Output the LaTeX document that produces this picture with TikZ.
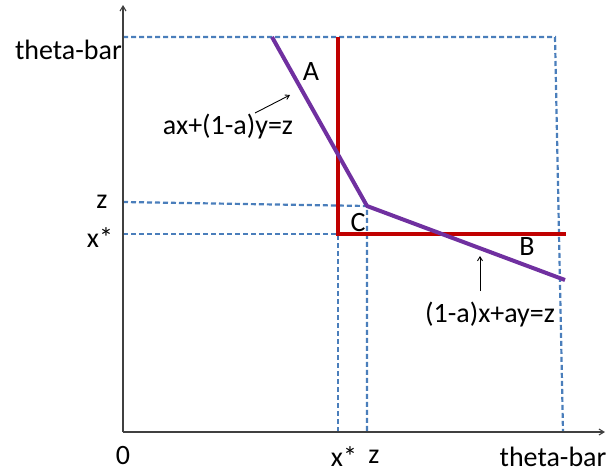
\documentclass[tikz,border=0pt]{standalone}
\usepackage{fontspec}
\setmainfont{Carlito}
\usetikzlibrary{arrows.meta}
\definecolor{dashblue}{HTML}{4A7EBB}
\definecolor{curvepurple}{HTML}{7030A0}
\definecolor{setred}{HTML}{C00000}
\tikzset{
  lbl/.style={inner sep=0pt, font=\fontsize{28}{32}\selectfont},
  axis/.style={draw=black!75, line width=1.1pt, -{Straight Barb[length=5pt,width=6pt]}},
  guide/.style={draw=dashblue, line width=2.2pt, dash pattern=on 5pt off 3pt},
  boundary/.style={draw=setred, line width=4pt},
  frontier/.style={draw=curvepurple, line width=4pt, line join=round},
  pointer/.style={draw=black, line width=0.9pt, -{Straight Barb[length=4pt,width=5pt]}}
}
\begin{document}
\begin{tikzpicture}[x=1pt,y=-1pt]
\useasboundingbox (0,0) rectangle (609,474);
% coordinates
\coordinate (O) at (123,432);
\coordinate (ytop) at (123,5);
\coordinate (xend) at (605,432);
\coordinate (tl) at (123,37);
\coordinate (tr) at (555,37);
\coordinate (br) at (563,432);
\coordinate (zl) at (123,202);
\coordinate (xl) at (123,234);
\coordinate (K) at (338,234);
\coordinate (Ktop) at (338,37);
\coordinate (Kright) at (566,234);
\coordinate (Kbot) at (338,432);
\coordinate (C) at (367,206);
\coordinate (Cbot) at (367,432);
\coordinate (Pa) at (272,37);
\coordinate (Pb) at (565,280);
% guides
\draw[guide] (tl) -- (tr) -- (br);
\draw[guide] (zl) -- (C) -- (Cbot);
\draw[guide] (xl) -- (K) -- (Kbot);
% axes
\draw[axis] (O) -- (ytop);
\draw[axis] (O) -- (xend);
% red set
\draw[boundary] (Ktop) -- (K) -- (Kright);
% purple frontier
\draw[frontier] (Pa) -- (C) -- (Pb);
% labels
\node[lbl, anchor=east] (thl) at (122,50) {theta-bar};
\node[lbl] (zlab) at (102,202) {z};
\node[lbl] (xlab) at (100,238) {x*};
\node[lbl] (zero) at (123,456) {0};
\node[lbl] (xb) at (344,457) {x*};
\node[lbl] (zb) at (374,457) {z};
\node[lbl] (thb) at (553,457) {theta-bar};
\node[lbl] (A) at (311,72) {A};
\node[lbl] (Clab) at (358,223) {C};
\node[lbl] (B) at (527,247) {B};
\node[lbl] (eqA) at (228,127) {ax+(1-a)y=z};
\node[lbl] (eqB) at (490,315) {(1-a)x+ay=z};
\coordinate (pa1) at (255,113);
\coordinate (pa2) at (290,95);
\coordinate (pb1) at (480,291);
\coordinate (pb2) at (480,256);
\draw[pointer] (pa1) -- (pa2);
\draw[pointer] (pb1) -- (pb2);
\end{tikzpicture}
\end{document}
